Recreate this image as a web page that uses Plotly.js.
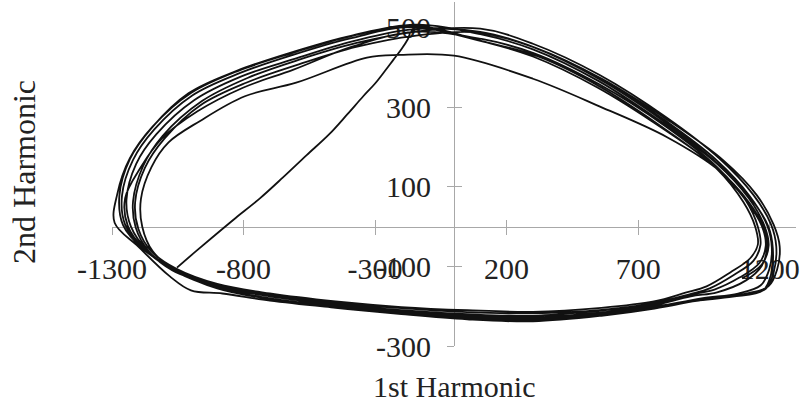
<!DOCTYPE html>
<html>
<head>
<meta charset="utf-8">
<script src="https://cdn.plot.ly/plotly-3.0.1.min.js"></script>
<style>
  html, body { margin: 0; padding: 0; background: #ffffff; }
  #chart { width: 807px; height: 409px; }
</style>
</head>
<body>
<div id="chart"></div>
<script>
// Phase-plane trajectory: 1st harmonic amplitude (x) against 2nd harmonic amplitude (y).

// Start-up transient, rising from the lower-left into the limit cycle
const transientX = [-1053, -985, -910, -830, -740, -650, -560, -475, -405, -345, -300, -262, -230, -200, -175, -160];
const transientY = [-103, -64, -22, 22, 70, 124, 180, 232, 283, 328, 360, 392, 420, 446, 472, 492];

// Successive cycles, each running clockwise from the top of the loop
const cycle1X = [100, 300, 550, 800, 1000, 1130, 1195, 1212, 1205, 1175, 1060, 920, 750, 550, 300, 50, -200, -450, -700, -900, -1060, -1180, -1250, -1262, -1220, -1140, -995, -815, -612, -390, -160];
const cycle1Y = [490, 452, 372, 264, 160, 70, 0, -55, -120, -160, -176, -186, -202, -220, -232, -228, -216, -200, -180, -154, -112, -55, 5, 78, 168, 244, 330, 386, 432, 474, 502];

const cycle2X = [120, 320, 560, 805, 1000, 1100, 1145, 1155, 1125, 1050, 960, 880, 760, 560, 300, 50, -200, -450, -700, -900, -1055, -1150, -1200, -1212, -1175, -1100, -965, -790, -590, -372, -150];
const cycle2Y = [464, 428, 350, 244, 145, 62, 0, -45, -80, -115, -150, -166, -188, -204, -214, -210, -202, -188, -168, -144, -106, -62, -5, 62, 148, 222, 305, 362, 408, 452, 480];

const cycle3X = [100, 310, 562, 818, 1025, 1150, 1215, 1238, 1228, 1195, 1110, 955, 762, 560, 300, 50, -200, -450, -700, -880, -1000, -1080, -1200, -1290, -1280, -1232, -1145, -1000, -820, -618, -398, -150];
const cycle3Y = [488, 450, 372, 266, 166, 80, 5, -50, -108, -150, -168, -182, -206, -224, -238, -233, -220, -204, -186, -168, -160, -125, -50, 10, 82, 172, 252, 336, 392, 436, 478, 505];

const cycle4X = [110, 300, 545, 795, 995, 1110, 1170, 1185, 1160, 1085, 990, 905, 745, 545, 300, 50, -200, -450, -700, -900, -1065, -1145, -1185, -1190, -1150, -1085, -965, -795, -600, -331, -205];
const cycle4Y = [466, 428, 350, 246, 150, 66, 2, -48, -92, -128, -158, -170, -196, -212, -224, -220, -210, -194, -174, -148, -106, -62, 0, 70, 150, 212, 266, 328, 362, 425, 432];

const cycle5X = [0, 300, 555, 810, 1010, 1120, 1175, 1190, 1170, 1110, 1000, 900, 750, 550, 300, 50, -200, -450, -700, -900, -1050, -1165, -1228, -1245, -1208, -1132, -988, -808, -606, -386, -150];
const cycle5Y = [430, 372, 302, 225, 140, 62, 0, -50, -98, -135, -165, -175, -199, -216, -228, -224, -212, -196, -175, -150, -114, -60, 0, 68, 158, 232, 318, 378, 422, 466, 497];

const cycle6X = [100, 300, 550, 800, 1000, 1125, 1190, 1208, 1198, 1165, 1080, 940, 755, 555, 300, 50, -200, -450, -700, -900, -1062, -1175, -1240, -1250, -1190, -1110, -975, -800, -610, -390, -150];
const cycle6Y = [488, 452, 374, 268, 166, 76, 4, -52, -108, -148, -168, -180, -203, -220, -232, -228, -216, -200, -180, -155, -110, -58, 2, 72, 150, 222, 290, 350, 395, 452, 490];

const cycle7X = [105, 305, 552, 805, 1000, 1110, 1155, 1165, 1138, 1062, 972, 895, 752, 552, 300, 50, -200, -450, -700, -905, -1070, -1160, -1210, -1220, -1182, -1108, -958, -785, -588, -370, -150];
const cycle7Y = [472, 436, 358, 252, 150, 65, 0, -46, -86, -122, -155, -170, -193, -210, -218, -215, -205, -190, -171, -147, -110, -62, -2, 64, 152, 228, 316, 374, 420, 462, 490];

const cycle8X = [100, 300, 552, 805, 1008, 1138, 1205, 1225, 1215, 1185, 1095, 948, 757, 556, 300, 50, -200, -450, -700, -900, -1058, -1182, -1258, -1272, -1232, -1150, -1008, -826, -620, -392, -150];
const cycle8Y = [498, 460, 382, 276, 172, 80, 6, -50, -115, -156, -172, -184, -204, -222, -236, -232, -219, -202, -182, -155, -110, -56, 4, 78, 170, 248, 336, 392, 438, 480, 508];

const cycle9X = [100, 300, 550, 800, 1000, 1120, 1180, 1196, 1170, 1095];
const cycle9Y = [484, 446, 366, 258, 158, 72, 2, -48, -95, -130];

// Axis ticks
const xTickValues = [-1300, -800, -300, 200, 700, 1200];
const xTickLabels = ['-1300', '-800', '-300', '200', '700', '1200'];
const yTickValues = [-300, -100, 100, 300, 500];
const yTickLabels = ['-300', '-100', '100', '300', '500'];

const xRange = [-1300, 1300];
const yRange = [-300, 565];

const pathX = [].concat(transientX, cycle1X, cycle2X, cycle3X, cycle4X, cycle5X, cycle6X, cycle7X, cycle8X, cycle9X);
const pathY = [].concat(transientY, cycle1Y, cycle2Y, cycle3Y, cycle4Y, cycle5Y, cycle6Y, cycle7Y, cycle8Y, cycle9Y);

const serif = 'Liberation Serif, Times New Roman, serif';
const axisGrey = '#a8a8a8';

// Axes cross at the origin: place each axis line at the data zero of the other axis
const xAxisPos = (0 - yRange[0]) / (yRange[1] - yRange[0]);
const yAxisPos = (0 - xRange[0]) / (xRange[1] - xRange[0]);

const traces = [
  {
    x: pathX, y: pathY,
    type: 'scatter', mode: 'lines',
    line: { color: '#111111', width: 1.8, shape: 'spline', smoothing: 1 },
    hoverinfo: 'skip', showlegend: false
  },
  { x: [], y: [], xaxis: 'x2', yaxis: 'y2', type: 'scatter', mode: 'lines', showlegend: false, hoverinfo: 'skip' }
];

const baseX = {
  range: xRange, tickmode: 'array', tickvals: xTickValues,
  showgrid: false, zeroline: false, anchor: 'free', position: xAxisPos,
  automargin: false, layer: 'below traces', fixedrange: true
};
const baseY = {
  range: yRange, tickmode: 'array', tickvals: yTickValues,
  showgrid: false, zeroline: false, anchor: 'free', position: yAxisPos,
  automargin: false, layer: 'below traces', fixedrange: true
};

const layout = {
  width: 807, height: 409,
  margin: { l: 112, r: 11, t: 2, b: 63 },
  paper_bgcolor: '#ffffff', plot_bgcolor: 'rgba(0,0,0,0)',
  showlegend: false,
  xaxis: Object.assign({}, baseX, {
    ticktext: xTickLabels, ticks: 'outside', ticklen: 7, tickwidth: 1, tickcolor: axisGrey,
    showline: true, linecolor: axisGrey, linewidth: 1,
    tickfont: { family: serif, size: 30, color: '#222' }, ticklabelstandoff: 8
  }),
  yaxis: Object.assign({}, baseY, {
    ticktext: yTickLabels, ticks: 'outside', ticklen: 7, tickwidth: 1, tickcolor: axisGrey,
    showline: true, linecolor: axisGrey, linewidth: 1,
    tickfont: { family: serif, size: 30, color: '#222' }, ticklabelstandoff: 10
  }),
  xaxis2: Object.assign({}, baseX, {
    overlaying: 'x', side: 'bottom', ticks: 'inside', ticklen: 7, tickwidth: 1, tickcolor: axisGrey,
    showline: false, showticklabels: false
  }),
  yaxis2: Object.assign({}, baseY, {
    overlaying: 'y', side: 'left', ticks: 'inside', ticklen: 7, tickwidth: 1, tickcolor: axisGrey,
    showline: false, showticklabels: false
  }),
  annotations: [
    {
      text: '1st Harmonic', xref: 'paper', yref: 'paper', x: 0.5, y: -0.119,
      xanchor: 'center', yanchor: 'middle', showarrow: false,
      font: { family: serif, size: 30, color: '#222' }
    },
    {
      text: '2nd Harmonic', xref: 'paper', yref: 'paper', x: -0.1287, y: 0.506,
      xanchor: 'center', yanchor: 'middle', showarrow: false, textangle: -90,
      font: { family: serif, size: 32, color: '#222' }
    }
  ]
};

Plotly.newPlot('chart', traces, layout, { staticPlot: true, displayModeBar: false });
</script>
</body>
</html>
